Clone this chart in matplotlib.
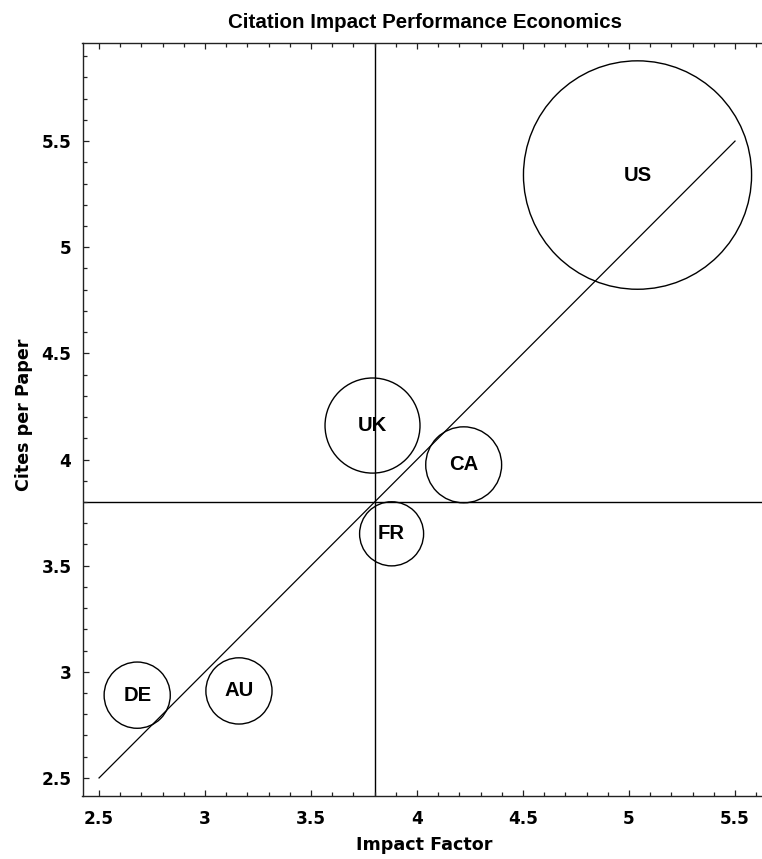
import matplotlib
matplotlib.use("Agg")
import matplotlib.pyplot as plt
from matplotlib.patches import Circle
from matplotlib.ticker import MultipleLocator, FuncFormatter

# Country bubbles: impact factor (x), cites per paper (y), bubble radius (axis units)
countries = ["US", "UK", "CA", "FR", "DE", "AU"]
impact_factor = [5.04, 3.79, 4.22, 3.88, 2.68, 3.16]
cites_per_paper = [5.34, 4.16, 3.975, 3.65, 2.89, 2.91]
bubble_radius = [0.538, 0.224, 0.179, 0.151, 0.156, 0.156]

# Quadrant dividers (averages) and the parity line
avg_impact = 3.8
avg_cites = 3.8
parity = [2.5, 5.5]

title = "Citation Impact Performance Economics"
x_label = "Impact Factor"
y_label = "Cites per Paper"

W, H = 762, 859
fig = plt.figure(figsize=(W / 100, H / 100), dpi=100)

xlim = (2.422, 5.66)
ylim = (2.415, 5.962)
px_per_unit = 212.0
left_px, top_px, bottom_px = 82.5, 43, 796
ax_w = (xlim[1] - xlim[0]) * px_per_unit
ax = fig.add_axes([left_px / W, (H - bottom_px) / H, ax_w / W, (bottom_px - top_px) / H])
ax.set_xlim(*xlim)
ax.set_ylim(*ylim)

ax.axvline(avg_impact, color="black", lw=1.0, zorder=1)
ax.axhline(avg_cites, color="black", lw=1.0, zorder=1)
ax.plot(parity, parity, color="black", lw=0.9, zorder=1)

for name, x, y, r in zip(countries, impact_factor, cites_per_paper, bubble_radius):
    ax.add_patch(Circle((x, y), r, fill=False, edgecolor="black", lw=1.0, zorder=2))
    ax.text(x, y, name, ha="center", va="center", fontsize=14.6,
            fontweight="bold", family="Liberation Sans", zorder=3)

ax.spines["right"].set_visible(False)
for s in ("left", "top", "bottom"):
    ax.spines[s].set_linewidth(1.0)
    ax.spines[s].set_color("#222222")

ax.xaxis.set_major_locator(MultipleLocator(0.5))
ax.xaxis.set_minor_locator(MultipleLocator(0.1))
ax.yaxis.set_major_locator(MultipleLocator(0.5))
ax.yaxis.set_minor_locator(MultipleLocator(0.1))
fmt = FuncFormatter(lambda v, p: f"{v:g}")
ax.xaxis.set_major_formatter(fmt)
ax.yaxis.set_major_formatter(fmt)

ax.tick_params(which="both", direction="in", top=True, bottom=True, left=True, right=False,
               labeltop=False, width=0.9, color="#222222")
ax.tick_params(which="major", length=4.5)
ax.tick_params(which="minor", length=3)
ax.tick_params(axis="x", which="major", pad=10)
ax.tick_params(axis="y", which="major", pad=8)
for lab in ax.get_xticklabels() + ax.get_yticklabels():
    lab.set_fontfamily("DejaVu Sans")
    lab.set_fontweight("bold")
    lab.set_fontsize(12.2)

ax.set_xlabel(x_label, fontsize=12.6, fontweight="bold", family="DejaVu Sans", labelpad=6)
ax.set_ylabel(y_label, fontsize=12.6, fontweight="bold", family="DejaVu Sans", labelpad=10)
ax.xaxis.set_label_coords((424.5 - left_px) / ax_w, -(845 - bottom_px) / (bottom_px - top_px))
ax.yaxis.set_label_coords(-(left_px - 24) / ax_w, (bottom_px - 415) / (bottom_px - top_px))
ax.xaxis.label.set_va("center")
ax.yaxis.label.set_va("center")

fig.text(425 / W, 1 - 22 / H, title, ha="center", va="center", fontsize=14.8,
         fontweight="bold", family="Liberation Sans")

fig.savefig("out.png", dpi=100, facecolor="white")
